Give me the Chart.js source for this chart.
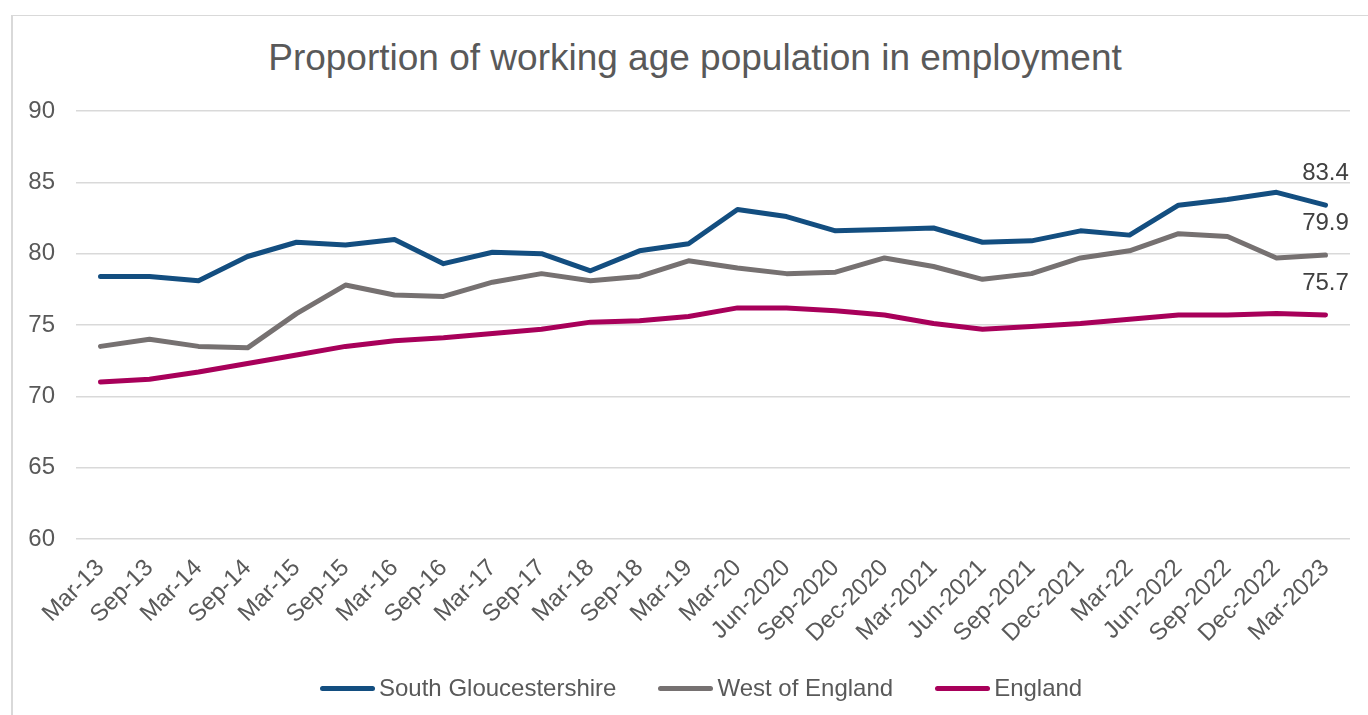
<!DOCTYPE html>
<html lang="en">
<head>
  <meta charset="UTF-8">
  <title>Proportion of working age population in employment</title>
  <script src="https://cdn.jsdelivr.net/npm/chart.js"></script>
  <style>
    * {
      margin: 0;
      padding: 0;
      box-sizing: border-box;
    }
    body {
      width: 1368px;
      height: 715px;
      overflow: hidden;
      background-color: #ffffff;
      font-family: 'Liberation Sans', Arial, sans-serif;
      position: relative;
    }
    .frame {
      position: absolute;
      left: 11px;
      top: 15px;
      width: 1400px;
      height: 740px;
      border-top: 1px solid #d9d9d9;
      border-left: 2px solid #d9d9d9;
    }
    .chart-title {
      position: absolute;
      left: 0;
      top: 36px;
      width: 1390px;
      text-align: center;
      font-size: 37px;
      line-height: 44px;
      color: #595959;
    }
    .chart-box {
      position: absolute;
      left: 0;
      top: 0;
      width: 1368px;
      height: 715px;
    }
    .legend {
      position: absolute;
      left: 320px;
      top: 674px;
      display: flex;
      align-items: center;
      gap: 42px;
      font-size: 24px;
      color: #595959;
      white-space: nowrap;
    }
    .legend-item {
      display: flex;
      align-items: center;
    }
    .legend-line {
      width: 55px;
      height: 5px;
      border-radius: 3px;
      margin-right: 4px;
    }
  </style>
</head>
<body>
  <div class="frame"></div>
  <div class="chart-title">Proportion of working age population in employment</div>
  <div class="chart-box">
    <canvas id="employmentChart" width="1368" height="715"></canvas>
  </div>
  <div class="legend" id="legend"></div>

  <script>
    const periods = ['Mar-13', 'Sep-13', 'Mar-14', 'Sep-14', 'Mar-15', 'Sep-15', 'Mar-16', 'Sep-16',
      'Mar-17', 'Sep-17', 'Mar-18', 'Sep-18', 'Mar-19', 'Mar-20', 'Jun-2020', 'Sep-2020', 'Dec-2020',
      'Mar-2021', 'Jun-2021', 'Sep-2021', 'Dec-2021', 'Mar-22', 'Jun-2022', 'Sep-2022', 'Dec-2022', 'Mar-2023'];

    const southGlos = [78.4, 78.4, 78.1, 79.8, 80.8, 80.6, 81.0, 79.3, 80.1, 80.0, 78.8, 80.2, 80.7,
      83.1, 82.6, 81.6, 81.7, 81.8, 80.8, 80.9, 81.6, 81.3, 83.4, 83.8, 84.3, 83.4];
    const westOfEngland = [73.5, 74.0, 73.5, 73.4, 75.8, 77.8, 77.1, 77.0, 78.0, 78.6, 78.1, 78.4, 79.5,
      79.0, 78.6, 78.7, 79.7, 79.1, 78.2, 78.6, 79.7, 80.2, 81.4, 81.2, 79.7, 79.9];
    const england = [71.0, 71.2, 71.7, 72.3, 72.9, 73.5, 73.9, 74.1, 74.4, 74.7, 75.2, 75.3, 75.6,
      76.2, 76.2, 76.0, 75.7, 75.1, 74.7, 74.9, 75.1, 75.4, 75.7, 75.7, 75.8, 75.7];

    const seriesNames = ['South Gloucestershire', 'West of England', 'England'];
    const seriesColors = ['#134e80', '#767171', '#a8005a'];
    const yTicks = [60, 65, 70, 75, 80, 85, 90];

    const textColor = '#595959';
    const fontFamily = "'Liberation Sans', Arial, sans-serif";

    const allSeries = [southGlos, westOfEngland, england];

    const datasets = allSeries.map((values, i) => ({
      label: seriesNames[i],
      data: values,
      borderColor: seriesColors[i],
      backgroundColor: seriesColors[i],
      borderWidth: 5,
      borderCapStyle: 'round',
      borderJoinStyle: 'round',
      pointRadius: 0,
      tension: 0,
      fill: false
    }));

    // labels above the last point of each line
    const lastValueLabels = {
      id: 'lastValueLabels',
      afterDatasetsDraw(chart) {
        const ctx = chart.ctx;
        ctx.save();
        ctx.font = '24px ' + fontFamily;
        ctx.fillStyle = '#404040';
        ctx.textAlign = 'center';
        ctx.textBaseline = 'middle';
        chart.data.datasets.forEach((ds, i) => {
          const meta = chart.getDatasetMeta(i);
          const pt = meta.data[meta.data.length - 1];
          const val = ds.data[ds.data.length - 1];
          ctx.fillText(val.toFixed(1), pt.x, pt.y - 32);
        });
        ctx.restore();
      }
    };

    const config = {
      type: 'line',
      data: {
        labels: periods,
        datasets: datasets
      },
      options: {
        responsive: false,
        animation: false,
        layout: {
          padding: { left: 0, right: 18, top: 111, bottom: 0 }
        },
        plugins: {
          legend: { display: false },
          tooltip: { enabled: false },
          title: { display: false }
        },
        scales: {
          x: {
            offset: true,
            grid: { display: false },
            border: { display: false },
            ticks: {
              autoSkip: false,
              minRotation: 45,
              maxRotation: 45,
              padding: 7,
              color: textColor,
              font: { family: fontFamily, size: 24 }
            },
            afterFit(scale) {
              scale.height = 176;
            }
          },
          y: {
            min: 60,
            max: 90,
            afterBuildTicks(scale) {
              scale.ticks = yTicks.map(v => ({ value: v }));
            },
            grid: {
              color: '#d9d9d9',
              lineWidth: 1.5,
              drawTicks: false
            },
            border: { display: false },
            ticks: {
              padding: 21,
              color: textColor,
              font: { family: fontFamily, size: 24 }
            },
            afterFit(scale) {
              scale.width = 76;
            }
          }
        }
      },
      plugins: [lastValueLabels]
    };

    const ctx = document.getElementById('employmentChart').getContext('2d');
    new Chart(ctx, config);

    // html legend built from the series names and colours
    const legendEl = document.getElementById('legend');
    seriesNames.forEach((name, i) => {
      const item = document.createElement('div');
      item.className = 'legend-item';
      const line = document.createElement('span');
      line.className = 'legend-line';
      line.style.backgroundColor = seriesColors[i];
      const label = document.createElement('span');
      label.textContent = name;
      item.appendChild(line);
      item.appendChild(label);
      legendEl.appendChild(item);
    });
  </script>
</body>
</html>
